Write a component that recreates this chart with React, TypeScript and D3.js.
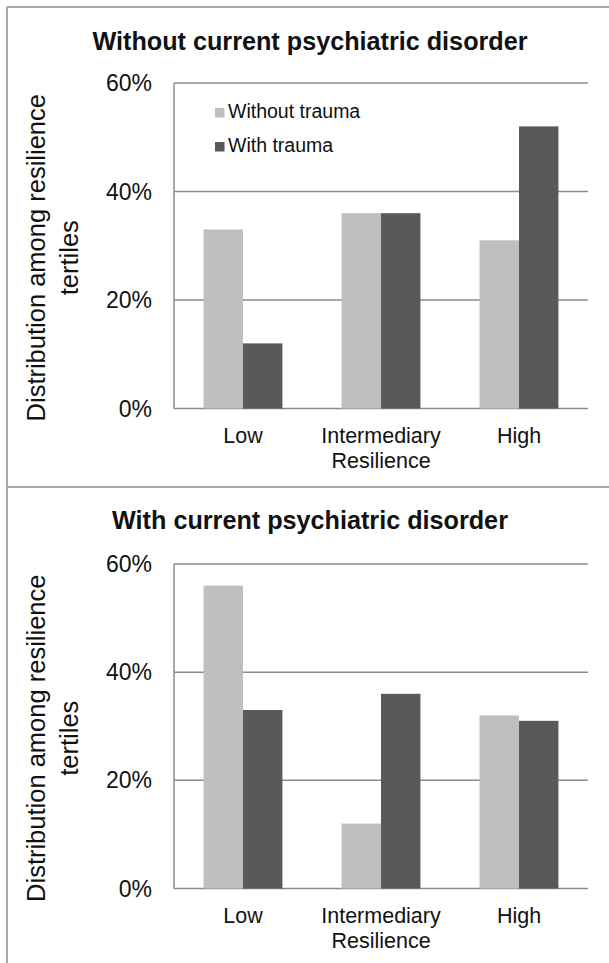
import React, { useEffect, useRef } from 'react'
import * as d3 from 'd3'

const categories = ['Low', 'Intermediary', 'High']
const seriesNames = ['Without trauma', 'With trauma']
const panelTitles = [
  'Without current psychiatric disorder',
  'With current psychiatric disorder',
]
// values in percent
const noDisorderNoTrauma = [33, 36, 31]
const noDisorderTrauma = [12, 36, 52]
const disorderNoTrauma = [56, 12, 32]
const disorderTrauma = [33, 36, 31]
const yTicks = [0, 20, 40, 60]

const colors = ['#bfbfbf', '#595959']
const font = 'Liberation Sans, Arial, sans-serif'

const W = 609
const H = 963

interface Panel {
  title: string
  values: number[][]
  top: number
  bottom: number
  titleY: number
  legend: boolean
}

const App: React.FC = () => {
  const svgRef = useRef<SVGSVGElement | null>(null)

  useEffect(() => {
    if (!svgRef.current) return
    const svg = d3.select(svgRef.current)
    svg.selectAll('*').remove()

    svg.append('rect').attr('width', W).attr('height', H).attr('fill', '#fff')

    // panel frames
    const frame = '#a9a9a9'
    svg.append('line').attr('x1', 7).attr('x2', W).attr('y1', 7).attr('y2', 7)
      .attr('stroke', frame).attr('stroke-width', 2)
    svg.append('line').attr('x1', 7).attr('x2', 7).attr('y1', 7).attr('y2', H)
      .attr('stroke', frame).attr('stroke-width', 2)
    svg.append('line').attr('x1', 7).attr('x2', W).attr('y1', 487).attr('y2', 487)
      .attr('stroke', frame).attr('stroke-width', 2)

    const panels: Panel[] = [
      {
        title: panelTitles[0],
        values: [noDisorderNoTrauma, noDisorderTrauma],
        top: 83,
        bottom: 408.5,
        titleY: 50,
        legend: true,
      },
      {
        title: panelTitles[1],
        values: [disorderNoTrauma, disorderTrauma],
        top: 564,
        bottom: 888.5,
        titleY: 529,
        legend: false,
      },
    ]

    const left = 174
    const right = 588

    panels.forEach((p) => {
      const g = svg.append('g')

      const x0 = d3.scaleBand().domain(categories).range([left, right])
      const bw = x0.bandwidth()
      const x1 = d3
        .scaleBand()
        .domain(seriesNames)
        .range([(bw * 0.75) / 3.5, (bw * 2.75) / 3.5])
      const y = d3.scaleLinear().domain([0, 60]).range([p.bottom, p.top])

      // title
      g.append('text')
        .attr('x', 310)
        .attr('y', p.titleY)
        .attr('text-anchor', 'middle')
        .attr('font-family', font)
        .attr('font-weight', 'bold')
        .attr('font-size', 25.2)
        .attr('fill', '#111')
        .text(p.title)

      // gridlines
      g.selectAll('line.grid')
        .data(yTicks)
        .enter()
        .append('line')
        .attr('x1', left)
        .attr('x2', right)
        .attr('y1', (d) => y(d))
        .attr('y2', (d) => y(d))
        .attr('stroke', '#8c8c8c')
        .attr('stroke-width', 1.5)
      g.append('line')
        .attr('x1', left)
        .attr('x2', left)
        .attr('y1', y(60))
        .attr('y2', y(0))
        .attr('stroke', '#8c8c8c')
        .attr('stroke-width', 1.5)

      // tick labels
      g.selectAll('text.tick')
        .data(yTicks)
        .enter()
        .append('text')
        .attr('x', 152)
        .attr('y', (d) => y(d) + 8)
        .attr('text-anchor', 'end')
        .attr('font-family', font)
        .attr('font-size', 23)
        .attr('fill', '#111')
        .text((d) => `${d}%`)

      // bars
      p.values.forEach((vals, si) => {
        g.selectAll(`rect.s${si}`)
          .data(vals)
          .enter()
          .append('rect')
          .attr('x', (_, i) => x0(categories[i])! + x1(seriesNames[si])!)
          .attr('y', (d) => y(d))
          .attr('width', x1.bandwidth())
          .attr('height', (d) => y(0) - y(d))
          .attr('fill', colors[si])
      })

      // category labels
      g.selectAll('text.cat')
        .data(categories)
        .enter()
        .append('text')
        .attr('x', (d) => x0(d)! + bw / 2)
        .attr('y', p.bottom + 34)
        .attr('text-anchor', 'middle')
        .attr('font-family', font)
        .attr('font-size', 21.5)
        .attr('fill', '#111')
        .text((d) => d)

      g.append('text')
        .attr('x', (left + right) / 2)
        .attr('y', p.bottom + 59)
        .attr('text-anchor', 'middle')
        .attr('font-family', font)
        .attr('font-size', 21.5)
        .attr('fill', '#111')
        .text('Resilience')

      // y axis title
      const cy = (p.top + p.bottom) / 2 + 12
      const yt = g
        .append('text')
        .attr('transform', `translate(45,${cy}) rotate(-90)`)
        .attr('text-anchor', 'middle')
        .attr('font-family', font)
        .attr('font-size', 25.5)
        .attr('fill', '#111')
      yt.append('tspan').attr('x', 0).attr('y', 0).text('Distribution among resilience')
      yt.append('tspan').attr('x', 0).attr('y', 33).text('tertiles')

      // legend
      if (p.legend) {
        seriesNames.forEach((name, i) => {
          const ly = 118 + i * 34
          g.append('rect')
            .attr('x', 215)
            .attr('y', ly - 10)
            .attr('width', 9.5)
            .attr('height', 9.5)
            .attr('fill', colors[i])
          g.append('text')
            .attr('x', 228)
            .attr('y', ly)
            .attr('font-family', font)
            .attr('font-size', 19.5)
            .attr('fill', '#111')
            .text(name)
        })
      }
    })
  }, [])

  return (
    <svg
      ref={svgRef}
      width={W}
      height={H}
      style={{ position: 'absolute', left: 0, top: 0 }}
    ></svg>
  )
}

export default App
